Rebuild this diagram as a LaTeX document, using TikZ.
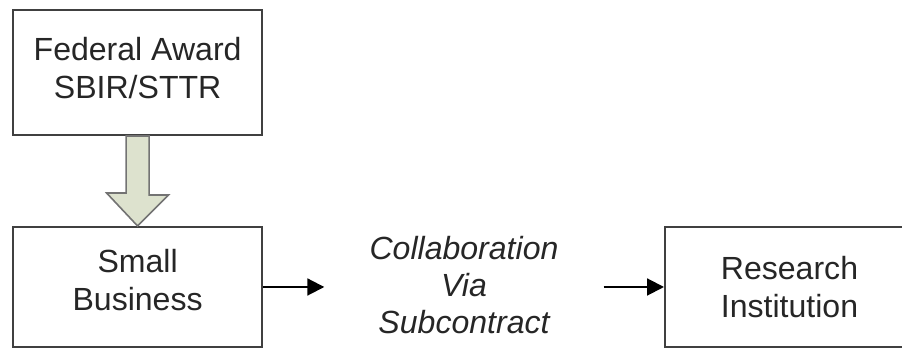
\documentclass[tikz,border=0pt]{standalone}
\usepackage{fontspec}
\setmainfont{Liberation Sans}
\usepackage{xcolor}
\usetikzlibrary{arrows.meta}
\definecolor{shaftfill}{RGB}{221,226,206}

\begin{document}
\begin{tikzpicture}[scale=1]

	\tikzstyle{stage}=[draw=black!75,line width=0.05cm,rectangle,align=center,text=black!85,font=\fontsize{22.8}{27}\selectfont]
	\tikzstyle{flow}=[-{Triangle[length=0.42cm,width=0.42cm]},line width=0.05cm]
	\tikzstyle{fatarrow}=[draw=black!55,line width=0.04cm,fill=shaftfill]

	\useasboundingbox (0,0) rectangle (22.55,8.7);
	\clip (0,0) rectangle (22.55,8.7);

	\node[stage,minimum width=6.24cm,minimum height=3.125cm,text depth=0.25cm] (award) at (3.44,6.8875) {Federal Award\\SBIR/STTR};
	\node[stage,minimum width=6.24cm,minimum height=3cm,text depth=0.35cm] (business) at (3.44,1.525) {Small\\Business};
	\node[stage,minimum width=6.225cm,minimum height=3cm,text depth=-0.3cm] (institution) at (19.7375,1.525) {Research\\Institution};

	\node[align=center,inner xsep=1.125cm,text=black!85,font=\fontsize{22.8}{26.5}\selectfont\itshape] (collab) at (11.6,1.575) {Collaboration\\Via\\Subcontract};

	\draw[flow] (business.east) -- (business.east -| collab.west);
	\draw[flow] (collab.east |- institution.west) -- (institution.west);

	% wide arrow from the award down to the business
	\draw[fatarrow] (award.south) ++(-0.2875,0) -- ++(0.575,0) -- ++(0,-1.475) -- ++(0.4875,0) -- (business.north) -- ++(-0.775,0.825) -- ++(0.4875,0) -- cycle;

\end{tikzpicture}
\end{document}
